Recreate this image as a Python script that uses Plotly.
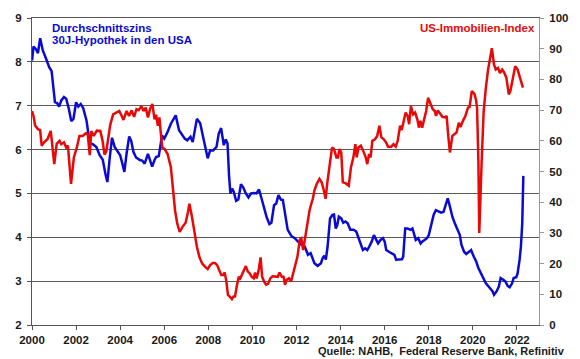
import plotly.graph_objects as go

# --- 30-year mortgage rate (left axis, %) ---
rate_years = [
    2000.00, 2000.07, 2000.18, 2000.27, 2000.37, 2000.49, 2000.64, 2000.78, 2000.89,
    2001.04, 2001.14, 2001.23, 2001.33, 2001.45, 2001.55, 2001.67, 2001.78, 2001.88,
    2002.00, 2002.10, 2002.21, 2002.32, 2002.47, 2002.62, 2002.77, 2002.92,
    2003.07, 2003.21, 2003.33, 2003.42, 2003.53, 2003.63, 2003.75, 2003.85,
    2004.00, 2004.10, 2004.19, 2004.29, 2004.41, 2004.50, 2004.60, 2004.72, 2004.89,
    2005.00, 2005.11, 2005.26, 2005.36, 2005.45, 2005.55, 2005.63, 2005.75, 2005.90,
    2006.00, 2006.15, 2006.30, 2006.52, 2006.67, 2006.82, 2006.93,
    2007.04, 2007.19, 2007.29, 2007.48, 2007.63, 2007.78, 2007.97,
    2008.08, 2008.22, 2008.37, 2008.47, 2008.58, 2008.70, 2008.79, 2008.87, 2008.94,
    2009.00, 2009.08, 2009.15, 2009.26, 2009.36, 2009.48, 2009.58, 2009.70, 2009.82, 2009.94,
    2010.07, 2010.18, 2010.30, 2010.41, 2010.53, 2010.65, 2010.77, 2010.86, 2010.98,
    2011.08, 2011.18, 2011.29, 2011.38, 2011.48, 2011.60, 2011.78, 2011.92,
    2012.07, 2012.22, 2012.37, 2012.52, 2012.64, 2012.81, 2012.96,
    2013.11, 2013.18, 2013.26, 2013.33, 2013.41, 2013.52, 2013.63, 2013.70, 2013.78, 2013.85, 2013.92,
    2014.03, 2014.12, 2014.22, 2014.32, 2014.44, 2014.59, 2014.71, 2014.81, 2014.92,
    2015.01, 2015.11, 2015.21, 2015.30, 2015.41, 2015.51, 2015.60, 2015.70, 2015.81, 2015.92,
    2016.00, 2016.07, 2016.19, 2016.30, 2016.44, 2016.52, 2016.67, 2016.78, 2016.84, 2016.93,
    2017.04, 2017.18, 2017.26, 2017.33, 2017.41, 2017.52, 2017.63, 2017.70, 2017.82, 2017.92,
    2018.00, 2018.12, 2018.22, 2018.32, 2018.44, 2018.56, 2018.67, 2018.77, 2018.86, 2018.96,
    2019.07, 2019.18, 2019.30, 2019.41, 2019.48, 2019.60, 2019.70, 2019.81, 2019.92,
    2020.04, 2020.15, 2020.25, 2020.37, 2020.49, 2020.59, 2020.74, 2020.89, 2020.96,
    2021.08, 2021.18, 2021.26, 2021.38, 2021.48, 2021.58, 2021.67, 2021.78, 2021.85, 2021.97,
    2022.03, 2022.12, 2022.18, 2022.24, 2022.29,
]
rate_values = [
    8.03, 8.35, 8.29, 8.20, 8.54, 8.26, 8.07, 7.88, 7.79,
    7.08, 7.06, 6.98, 7.12, 7.20, 7.16, 6.93, 6.65, 6.70,
    7.08, 6.98, 7.04, 6.95, 6.67, 6.15, 6.12, 6.06,
    5.87, 5.77, 5.45, 5.26, 5.83, 6.27, 6.06, 5.97,
    5.87, 5.68, 5.49, 5.91, 6.30, 6.20, 5.95, 5.82, 5.76,
    5.75, 5.68, 5.90, 5.75, 5.61, 5.75, 5.83, 5.85, 6.32,
    6.25, 6.40, 6.59, 6.78, 6.44, 6.32, 6.25,
    6.21, 6.29, 6.17, 6.70, 6.60, 6.21, 5.80,
    5.98, 5.98, 6.06, 6.36, 6.49, 6.10, 6.23, 6.14, 5.40,
    5.00, 5.11, 5.04, 4.83, 4.86, 5.21, 5.14, 5.00, 4.91, 5.00,
    5.01, 5.00, 5.09, 4.89, 4.66, 4.45, 4.30, 4.33, 4.73,
    4.77, 4.96, 4.86, 4.85, 4.58, 4.17, 4.02, 3.98,
    3.90, 3.83, 3.79, 3.60, 3.64, 3.41, 3.35,
    3.41, 3.52, 3.58, 3.49, 3.79, 4.43, 4.51, 4.52, 4.20, 4.28, 4.47,
    4.43, 4.33, 4.36, 4.32, 4.17, 4.17, 4.13, 3.98, 3.86,
    3.71, 3.75, 3.71, 3.79, 3.90, 4.05, 3.94, 3.86, 3.94, 3.98,
    3.90, 3.71, 3.67, 3.64, 3.60, 3.49, 3.49, 3.50, 3.56, 4.20,
    4.20, 4.17, 4.20, 4.05, 3.94, 3.98, 3.86, 3.90, 3.94, 3.98,
    4.05, 4.32, 4.51, 4.62, 4.58, 4.56, 4.58, 4.74, 4.89, 4.70,
    4.47, 4.32, 4.17, 4.05, 3.83, 3.67, 3.62, 3.67, 3.71,
    3.56, 3.45, 3.30, 3.18, 3.03, 2.95, 2.86, 2.77, 2.69,
    2.77, 2.88, 3.07, 3.03, 2.99, 2.89, 2.86, 2.95, 3.07, 3.09,
    3.18, 3.49, 3.79, 4.32, 5.40,
]

# --- NAHB housing market index (right axis) ---
index_years = [
    2000.00, 2000.07, 2000.14, 2000.27, 2000.37, 2000.44, 2000.55, 2000.70, 2000.85,
    2001.01, 2001.12, 2001.25, 2001.33, 2001.45, 2001.55, 2001.63, 2001.77, 2001.90,
    2002.04, 2002.15, 2002.30, 2002.45, 2002.53, 2002.62, 2002.69, 2002.80, 2002.94,
    2003.10, 2003.20, 2003.29, 2003.37, 2003.47, 2003.55, 2003.68, 2003.84, 2003.96,
    2004.07, 2004.15, 2004.29, 2004.40, 2004.52, 2004.63, 2004.74, 2004.84, 2004.96,
    2005.06, 2005.16, 2005.26, 2005.36, 2005.46, 2005.56, 2005.63, 2005.71, 2005.78, 2005.83, 2005.91,
    2006.02, 2006.15, 2006.30, 2006.40, 2006.49, 2006.59, 2006.70, 2006.82, 2006.97,
    2007.08, 2007.14, 2007.25, 2007.37, 2007.48, 2007.60, 2007.72, 2007.85, 2007.97,
    2008.08, 2008.20, 2008.30, 2008.40, 2008.49, 2008.59, 2008.67, 2008.74, 2008.81, 2008.89, 2008.96,
    2009.07, 2009.14, 2009.21, 2009.29, 2009.38, 2009.45, 2009.53, 2009.63, 2009.70, 2009.79, 2009.88, 2009.97,
    2010.06, 2010.12, 2010.19, 2010.27, 2010.37, 2010.44, 2010.53, 2010.62, 2010.71, 2010.81, 2010.91,
    2011.03, 2011.15, 2011.23, 2011.33, 2011.41, 2011.48, 2011.55, 2011.66, 2011.75, 2011.85, 2011.95,
    2012.04, 2012.15, 2012.22, 2012.30, 2012.37, 2012.44, 2012.52, 2012.59, 2012.67, 2012.74, 2012.81, 2012.92,
    2013.04, 2013.14, 2013.24, 2013.32, 2013.39, 2013.51, 2013.61, 2013.70, 2013.81, 2013.88, 2013.95,
    2014.03, 2014.10, 2014.22, 2014.37, 2014.47, 2014.58, 2014.67, 2014.73, 2014.81, 2014.92,
    2015.02, 2015.14, 2015.21, 2015.29, 2015.36, 2015.44, 2015.56, 2015.66, 2015.76, 2015.85, 2015.96,
    2016.06, 2016.15, 2016.30, 2016.40, 2016.50, 2016.59, 2016.70, 2016.77, 2016.87, 2016.95,
    2017.04, 2017.11, 2017.19, 2017.29, 2017.38, 2017.48, 2017.55, 2017.62, 2017.70, 2017.82, 2017.88, 2017.97,
    2018.07, 2018.18, 2018.27, 2018.33, 2018.41, 2018.52, 2018.62, 2018.74, 2018.81, 2018.89, 2018.96,
    2019.07, 2019.15, 2019.26, 2019.36, 2019.44, 2019.55, 2019.66, 2019.78, 2019.85, 2019.95,
    2020.07, 2020.14, 2020.19, 2020.25, 2020.29, 2020.40, 2020.49, 2020.59, 2020.69, 2020.86, 2020.96,
    2021.04, 2021.14, 2021.23, 2021.33, 2021.43, 2021.52, 2021.63, 2021.70, 2021.82, 2021.92,
    2022.03, 2022.15, 2022.27,
]
index_values = [
    69.7, 68.1, 65.0, 63.8, 63.5, 58.4, 59.5, 60.5, 63.2,
    52.4, 59.0, 60.0, 58.9, 59.5, 57.8, 58.4, 46.0, 54.6,
    58.0, 61.6, 61.6, 62.5, 62.0, 55.3, 63.2, 61.6, 63.3,
    63.2, 60.0, 55.5, 56.5, 61.1, 65.2, 68.6, 69.2, 69.7,
    68.1, 66.8, 69.7, 68.1, 69.9, 67.8, 70.3, 70.0, 71.3,
    69.7, 70.8, 67.6, 70.5, 72.0, 67.0, 68.5, 64.9, 67.6, 63.5, 57.8,
    57.3, 55.7, 51.4, 43.8, 37.3, 33.0, 30.3, 31.9, 33.3,
    37.0, 39.5, 35.5, 30.0, 25.5, 22.0, 20.0, 19.0, 18.2,
    19.5, 20.2, 20.2, 19.5, 17.9, 16.3, 16.3, 17.1, 14.6, 9.8, 9.3,
    8.4, 9.3, 9.3, 12.7, 15.7, 15.2, 16.8, 18.1, 19.2, 17.4, 16.8, 15.7,
    15.2, 17.1, 15.2, 17.4, 22.0, 15.7, 14.1, 13.1, 13.4, 15.2, 15.9,
    15.9, 15.7, 17.1, 15.7, 15.7, 13.1, 14.7, 15.2, 14.1, 16.8, 19.5,
    22.2, 27.8, 28.2, 24.4, 27.6, 30.3, 35.2, 37.3, 39.5, 41.1, 43.8, 46.0,
    47.6, 46.5, 43.8, 41.1, 46.0, 53.5, 57.8, 57.3, 54.6, 54.6, 57.3,
    56.2, 46.5, 46.2, 45.4, 51.4, 54.6, 58.9, 54.6, 57.8, 58.4,
    56.8, 54.6, 52.4, 55.7, 54.6, 60.0, 60.5, 61.6, 64.9, 61.1, 60.5,
    59.5, 58.1, 58.1, 58.9, 58.1, 60.0, 64.9, 63.5, 66.5, 69.2,
    68.1, 65.4, 71.3, 68.6, 69.2, 67.0, 64.3, 66.5, 64.3, 67.6, 69.7, 74.0,
    72.4, 70.3, 69.7, 68.1, 69.9, 68.6, 67.8, 67.6, 68.1, 61.1, 56.2,
    61.6, 62.2, 62.7, 65.9, 64.5, 66.5, 68.1, 70.8, 71.0, 76.2,
    75.3, 73.4, 70.7, 53.5, 30.0, 53.5, 69.7, 77.3, 83.2, 90.2, 84.8,
    83.2, 83.7, 82.1, 83.2, 82.1, 80.5, 75.1, 76.2, 80.5, 84.3,
    83.2, 80.5, 77.3,
]

x_tick_vals = list(range(2000, 2023, 2))
x_tick_text = [str(v) for v in x_tick_vals]

BLUE = "#0a0ad2"
RED = "#e80808"
FONT = "Liberation Sans, Arial, sans-serif"

W, H = 580, 359
L, R, T, B = 32, 31, 16, 34
PW, PH = W - L - R, H - T - B


def px_x(px):
    return (px - L) / PW


def px_y(py):
    return (H - B - py) / PH


fig = go.Figure()
fig.add_trace(go.Scatter(x=rate_years, y=rate_values, mode="lines",
                         line=dict(color=BLUE, width=2.5), yaxis="y",
                         showlegend=False))
fig.add_trace(go.Scatter(x=index_years, y=index_values, mode="lines",
                         line=dict(color=RED, width=2.5), yaxis="y2",
                         showlegend=False))

tickfont = dict(family=FONT, size=11.5, color="#1a1a1a", weight="bold")

fig.update_layout(
    width=W, height=H,
    margin=dict(l=L, r=R, t=T, b=B, pad=0),
    paper_bgcolor="white", plot_bgcolor="white",
    xaxis=dict(range=[2000, 2023], tickvals=x_tick_vals, ticktext=x_tick_text,
               ticks="outside", ticklen=4, tickcolor="#555", showgrid=False,
               showline=True, linecolor="#555", linewidth=1, mirror=True,
               zeroline=False, tickfont=tickfont),
    yaxis=dict(range=[2, 9], dtick=1, ticks="outside", ticklen=4, tickcolor="#555",
               showgrid=True, gridcolor="#5a5a5a", gridwidth=1,
               showline=True, linecolor="#555", linewidth=1, zeroline=False,
               tickfont=tickfont, ticklabelstandoff=3),
    yaxis2=dict(range=[0, 100], dtick=10, overlaying="y", side="right",
                ticks="outside", ticklen=4, tickcolor="#999", showgrid=False,
                showline=True, linecolor="#999", linewidth=1, zeroline=False,
                tickfont=tickfont, ticklabelstandoff=3),
    annotations=[
        dict(text="Durchschnittszins", xref="paper", yref="paper",
             x=px_x(50.5), y=px_y(26), xanchor="left", yanchor="middle",
             showarrow=False, font=dict(family=FONT, size=11.5, color=BLUE, weight="bold")),
        dict(text="30J-Hypothek in den USA", xref="paper", yref="paper",
             x=px_x(50.5), y=px_y(38.5), xanchor="left", yanchor="middle",
             showarrow=False, font=dict(family=FONT, size=11.5, color=BLUE, weight="bold")),
        dict(text="US-Immobilien-Index", xref="paper", yref="paper",
             x=px_x(546.5), y=px_y(26), xanchor="right", yanchor="middle",
             showarrow=False, font=dict(family=FONT, size=11.5, color=RED, weight="bold")),
        dict(text="Quelle: NAHB,  Federal Reserve Bank, Refinitiv", xref="paper", yref="paper",
             x=px_x(578), y=px_y(351), xanchor="right", yanchor="middle",
             showarrow=False, font=dict(family=FONT, size=11, color="#1a1a1a", weight="bold")),
    ],
)

fig.write_html("out.html", config={"displayModeBar": False},
               post_script="document.body.style.margin='0px';document.body.style.padding='0px';")
